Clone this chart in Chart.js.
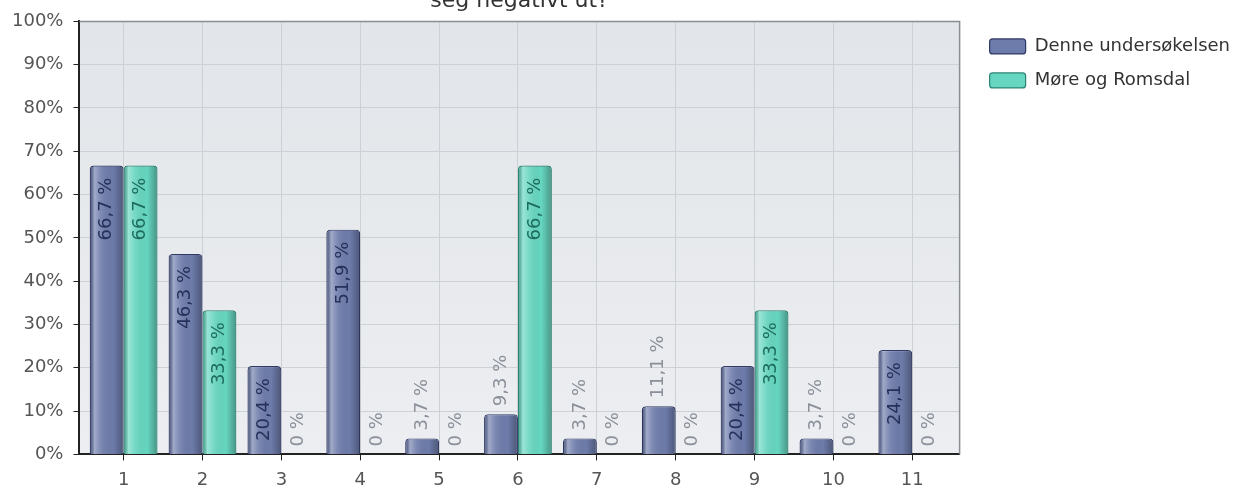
<!DOCTYPE html>
<html>
<head>
<meta charset="utf-8">
<script src="https://cdn.jsdelivr.net/npm/chart.js@4/dist/chart.umd.min.js"></script>
<style>
  body { margin: 0; background: #fff; }
  #wrap { width: 1251px; height: 491px; overflow: hidden; position: relative; }
  #chart { position: absolute; left: 0; top: -20px; }
</style>
</head>
<body>
<div id="wrap"><canvas id="chart" width="1251" height="520"></canvas></div>
<script>
// categories (x axis) and the two series, in percent
const categories = ['1', '2', '3', '4', '5', '6', '7', '8', '9', '10', '11'];
const denneValues = [66.7, 46.3, 20.4, 51.9, 3.7, 9.3, 3.7, 11.1, 20.4, 3.7, 24.1];
const moreValues = [66.7, 33.3, 0, 0, 0, 66.7, 0, 0, 33.3, 0, 0];
const seriesNames = ['Denne undersøkelsen', 'Møre og Romsdal'];
const titleText = 'seg negativt ut?';

Chart.defaults.font.family = '"DejaVu Sans", sans-serif';
Chart.defaults.font.size = 18;

function toPoints(values) {
    return values.map((v, i) => ({ x: i + 1, y: v }));
}

function formatPct(v) {
    return String(v).replace('.', ',') + ' %';
}

// grå bakgrunn og ramme rundt plotteområdet
const plotBg = {
    id: 'plotBg',
    beforeDraw(chart) {
        const { ctx, chartArea: a } = chart;
        ctx.save();
        const g = ctx.createLinearGradient(0, a.top, 0, a.bottom);
        g.addColorStop(0, '#e2e5e9');
        g.addColorStop(1, '#eceef1');
        ctx.fillStyle = g;
        ctx.fillRect(a.left, a.top, a.right - a.left, a.bottom - a.top);
        ctx.restore();
    },
    beforeDatasetsDraw(chart) {
        const { ctx, chartArea: a } = chart;
        ctx.save();
        ctx.strokeStyle = '#8a8d93';
        ctx.lineWidth = 1.5;
        ctx.beginPath();
        ctx.moveTo(a.left, a.top);
        ctx.lineTo(a.right, a.top);
        ctx.lineTo(a.right, a.bottom);
        ctx.stroke();
        ctx.restore();
    }
};

// sylinder-skygge over hver søyle
const barShade = {
    id: 'barShade',
    afterDatasetDraw(chart, args) {
        const ctx = chart.ctx;
        ctx.save();
        args.meta.data.forEach(el => {
            const { x, y, base, width } = el.getProps(['x', 'y', 'base', 'width'], true);
            const h = base - y;
            if (h < 2) return;
            const l = x - width / 2 + 1, r = x + width / 2 - 1;
            const g = ctx.createLinearGradient(l, 0, r, 0);
            g.addColorStop(0, 'rgba(0,0,0,0.2)');
            g.addColorStop(0.12, 'rgba(255,255,255,0.35)');
            g.addColorStop(0.3, 'rgba(255,255,255,0.12)');
            g.addColorStop(0.7, 'rgba(0,0,0,0)');
            g.addColorStop(1, 'rgba(0,0,0,0.28)');
            ctx.fillStyle = g;
            ctx.beginPath();
            ctx.roundRect(l, y + 1, r - l, h - 1, [3, 3, 0, 0]);
            ctx.fill();
        });
        ctx.restore();
    }
};

// verdier som rotert tekst, inne i søylen eller over den
const valueLabels = {
    id: 'valueLabels',
    afterDatasetsDraw(chart) {
        const ctx = chart.ctx;
        const insideColors = ['#26305a', '#1d6c5e'];
        ctx.save();
        ctx.font = '18px "DejaVu Sans", sans-serif';
        ctx.textBaseline = 'middle';
        chart.data.datasets.forEach((ds, di) => {
            chart.getDatasetMeta(di).data.forEach((el, i) => {
                const { x, y, base } = el.getProps(['x', 'y', 'base'], true);
                const text = formatPct(ds.data[i].y);
                const w = ctx.measureText(text).width;
                ctx.save();
                if (base - y > w + 20) {
                    ctx.translate(x, y + 12);
                    ctx.rotate(-Math.PI / 2);
                    ctx.textAlign = 'right';
                    ctx.fillStyle = insideColors[di];
                } else {
                    ctx.translate(x, y - 8);
                    ctx.rotate(-Math.PI / 2);
                    ctx.textAlign = 'left';
                    ctx.fillStyle = '#8a8f99';
                }
                ctx.fillText(text, 0, 0);
                ctx.restore();
            });
        });
        ctx.restore();
    }
};

const gridColor = '#cdd1d6';

new Chart(document.getElementById('chart'), {
    type: 'bar',
    data: {
        datasets: [
            {
                label: seriesNames[0],
                data: toPoints(denneValues),
                backgroundColor: '#6e7cab',
                borderColor: '#2f3a66',
                borderWidth: 1.2,
                borderRadius: { topLeft: 4, topRight: 4 },
                borderSkipped: 'start'
            },
            {
                label: seriesNames[1],
                data: toPoints(moreValues),
                backgroundColor: '#66d6c0',
                borderColor: '#2b8575',
                borderWidth: 1.2,
                borderRadius: { topLeft: 4, topRight: 4 },
                borderSkipped: 'start'
            }
        ]
    },
    options: {
        responsive: false,
        animation: false,
        categoryPercentage: 0.86,
        barPercentage: 1.0,
        layout: { padding: { left: 2, right: 11, top: 0, bottom: 0 } },
        scales: {
            x: {
                type: 'linear',
                offset: false,
                min: 0.44,
                max: 11.6,
                afterBuildTicks: scale => {
                    scale.ticks = categories.map((c, i) => ({ value: i + 1 }));
                },
                ticks: {
                    color: '#555',
                    padding: 9,
                    callback: v => categories[v - 1]
                },
                grid: { color: gridColor, tickColor: '#222', tickLength: 6, offset: false },
                border: { color: '#222', width: 2 }
            },
            y: {
                min: 0,
                max: 100,
                ticks: {
                    stepSize: 10,
                    color: '#555',
                    padding: 10,
                    callback: v => v + '%'
                },
                grid: { color: gridColor, tickColor: '#222', tickLength: 6 },
                border: { color: '#222', width: 2 }
            },
            yRight: {
                type: 'linear',
                position: 'right',
                display: true,
                afterFit: scale => { scale.width = 14; },
                ticks: { display: false },
                grid: { display: false, drawTicks: false },
                border: { display: false }
            }
        },
        plugins: {
            title: {
                display: true,
                text: titleText,
                fullSize: false,
                color: '#333',
                font: { size: 22, weight: 'normal' },
                padding: { top: 8, bottom: 7 }
            },
            legend: {
                position: 'right',
                align: 'start',
                fullSize: false,
                maxWidth: 320,
                labels: {
                    color: '#333',
                    font: { size: 18 },
                    boxWidth: 36,
                    boxHeight: 15,
                    padding: 16,
                    useBorderRadius: true,
                    borderRadius: 3
                }
            },
            tooltip: { enabled: false }
        }
    },
    plugins: [plotBg, barShade, valueLabels]
});
</script>
</body>
</html>
